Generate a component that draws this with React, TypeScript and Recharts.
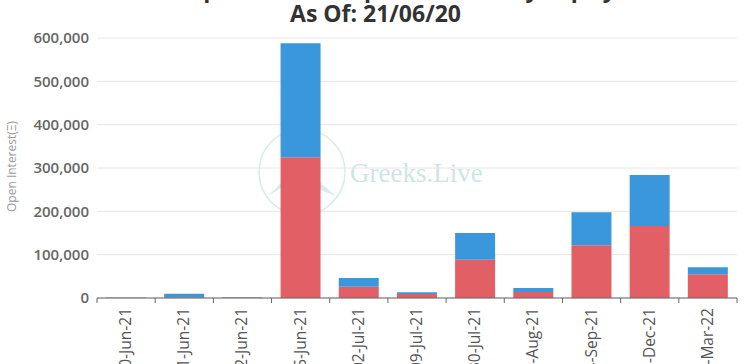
import { Bar, BarChart, CartesianGrid, XAxis, YAxis } from "recharts";

const expiries = [
  "20-Jun-21",
  "21-Jun-21",
  "22-Jun-21",
  "25-Jun-21",
  "02-Jul-21",
  "09-Jul-21",
  "30-Jul-21",
  "27-Aug-21",
  "24-Sep-21",
  "31-Dec-21",
  "25-Mar-22",
];
const putOI = [500, 2000, 1000, 325000, 26000, 9000, 88000, 14000, 122000, 166000, 55000];
const callOI = [500, 8000, 1000, 263000, 20000, 4500, 62000, 9000, 76000, 118000, 16000];
const yTicks = [0, 100000, 200000, 300000, 400000, 500000, 600000];

const data = expiries.map((expiry, i) => ({
  expiry,
  put: putOI[i],
  call: callOI[i],
}));

const font = "'Open Sans', 'DejaVu Sans', sans-serif";

function ExpiryTick(props: any) {
  const { x, y, payload, index } = props;
  const half = payload?.offset ?? 29;
  const last = index === expiries.length - 1;
  return (
    <g>
      <line x1={x - half} x2={x - half} y1={y} y2={y + 5} stroke="#666" />
      {last && <line x1={x + half} x2={x + half} y1={y} y2={y + 5} stroke="#666" />}
      <g transform={`translate(${x},${y})`}>
        <text
          transform="rotate(-90)"
          x={-10}
          y={5}
          textAnchor="end"
          fontSize={15.5}
          fill="#555"
          fontFamily={font}
        >
          {payload.value}
        </text>
      </g>
    </g>
  );
}

export default function App() {
  return (
    <div
      style={{
        position: "absolute",
        left: 0,
        top: 0,
        width: 751,
        height: 364,
        overflow: "hidden",
        background: "#fff",
        fontFamily: font,
      }}
    >
      {/* watermark */}
      <svg width={751} height={364} style={{ position: "absolute", left: 0, top: 0 }}>
        <circle cx={302} cy={172} r={43} fill="none" stroke="#d6ecea" strokeWidth={1.5} />
        <path d="M268 196 L296 168 L306 182 L312 176 L336 196 L310 186 L300 176 Z" fill="#d6ecea" />
        <text x={350} y={182} fontFamily="'Liberation Serif', serif" fontSize={27} fill="#cde6e3">
          Greeks.Live
        </text>
      </svg>

      <div
        style={{
          position: "absolute",
          left: 0,
          width: 751,
          top: -24,
          textAlign: "center",
          fontWeight: 700,
          fontSize: 23,
          lineHeight: "25px",
          color: "#333",
        }}
      >
        <div>ETH Option Dollar Open Interest by Expiry</div>
        <div>As Of: 21/06/20</div>
      </div>

      <div style={{ position: "absolute", left: 0, top: 0 }}>
        <BarChart
          width={751}
          height={364}
          data={data}
          margin={{ top: 38, right: 14, left: 0, bottom: 0 }}
          barCategoryGap="15.5%"
        >
          <CartesianGrid vertical={false} stroke="#e6e6e6" />
          <XAxis
            dataKey="expiry"
            interval={0}
            height={66}
            tickLine={false}
            tickSize={0}
            tickMargin={0}
            axisLine={{ stroke: "#666" }}
            tick={<ExpiryTick />}
          />
          <YAxis
            width={97}
            domain={[0, 600000]}
            ticks={yTicks}
            axisLine={false}
            tickLine={false}
            tickFormatter={(v: number) => v.toLocaleString("en-US")}
            tick={{ fontSize: 15, fontWeight: 600, fill: "#666", fontFamily: font }}
            label={{
              value: "Open Interest(Ξ)",
              angle: -90,
              position: "insideLeft",
              dx: 7,
              dy: 44,
              style: { fontSize: 12, fill: "#999", fontFamily: font },
            }}
          />
          <Bar dataKey="put" stackId="oi" fill="#E35F66" isAnimationActive={false} />
          <Bar dataKey="call" stackId="oi" fill="#3A97DB" isAnimationActive={false} />
        </BarChart>
      </div>
    </div>
  );
}
